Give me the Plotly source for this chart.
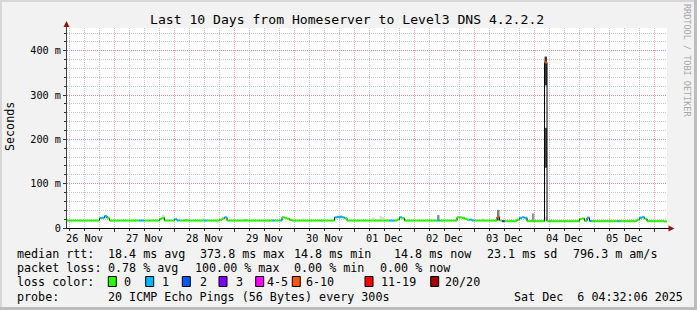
import pandas as pd
import plotly.graph_objects as go

# ---------------- data ----------------
start_time = "2025-11-26 05:00"          # first hourly sample
n_hours = 240

median_ms = [
    16.8,16.8,16.8,16.8,16.8,16.8,16.8,16.8,16.8,16.8,16.8,16.8,16.8,22.5,23.0,27.0,22.0,16.8,16.8,16.8,16.8,16.8,16.8,16.8,
    16.8,16.8,16.8,16.8,16.8,16.8,16.8,16.8,16.8,16.8,16.8,16.8,16.8,20.0,23.0,16.8,16.8,16.8,16.8,19.5,17.0,16.8,16.8,16.8,
    16.8,16.8,16.8,16.8,16.8,16.8,16.8,16.8,16.8,16.8,16.8,16.8,16.8,18.5,21.5,24.0,16.8,16.8,16.8,16.8,16.8,16.8,16.8,16.8,
    16.8,16.8,16.8,16.8,16.8,16.8,16.8,16.8,16.8,16.8,16.8,16.8,16.8,17.0,24.0,23.0,21.0,18.5,16.8,16.8,16.8,16.8,16.8,16.8,
    16.8,16.8,16.8,16.8,16.8,16.8,16.8,16.8,16.8,16.8,16.8,24.0,24.5,24.5,24.0,22.0,16.8,16.8,16.8,16.8,16.8,16.8,16.8,16.8,
    16.8,16.8,16.8,16.8,16.8,16.8,16.8,16.8,16.8,16.8,16.8,16.8,19.0,24.0,22.0,16.8,16.8,16.8,16.8,16.8,16.8,16.8,16.8,16.8,
    16.8,16.8,16.8,16.8,16.8,16.8,16.8,16.8,16.8,16.8,16.8,16.8,24.0,24.0,23.0,21.0,18.5,19.0,17.0,16.8,16.8,16.8,16.8,16.8,
    16.8,16.8,16.8,16.8,25.0,16.8,15.3,15.3,15.3,15.3,15.3,15.3,19.0,23.0,24.0,23.0,15.3,15.3,15.3,15.3,15.3,15.3,15.3,373.8,
    15.3,15.3,15.3,15.3,15.3,15.3,15.3,15.3,15.3,15.3,15.3,15.3,15.3,20.5,21.5,16.0,23.0,15.5,15.3,15.3,15.3,15.3,15.3,15.3,
    15.3,15.3,15.3,15.3,15.3,15.3,15.3,15.3,15.3,15.3,15.3,15.3,19.0,23.0,24.0,21.0,15.3,15.3,15.3,15.3,15.3,15.3,15.3,14.8,
]

# loss class per hour (index into loss_labels)
loss_class = [
    0,0,0,0,0,0,0,0,0,0,0,0,0,1,1,1,0,0,0,0,0,0,0,0,
    0,0,0,0,0,1,1,0,0,0,0,0,0,0,0,0,0,0,0,1,1,0,0,0,
    0,0,0,0,0,0,0,1,0,0,0,0,0,0,0,1,0,0,0,0,0,0,0,0,
    0,0,0,0,0,0,0,0,0,0,1,0,0,1,0,0,0,0,0,0,0,0,0,0,
    0,0,0,0,0,0,0,0,0,0,0,1,1,1,1,0,0,0,0,0,0,0,0,0,
    0,0,0,0,0,0,0,0,0,1,1,0,0,1,0,0,0,0,0,0,0,0,0,0,
    0,0,0,0,1,0,0,0,0,0,0,0,0,0,0,0,0,1,1,0,0,0,0,0,
    0,0,0,0,5,0,3,0,0,0,0,0,0,1,1,1,0,0,0,0,0,0,0,5,
    0,0,0,0,0,0,0,0,0,0,0,0,0,0,0,0,1,1,0,0,0,0,0,0,
    0,0,0,0,1,0,0,0,0,0,0,0,0,1,1,0,0,0,0,0,0,0,0,0,
]

loss_labels = ["0", "1", "2", "3", "4-5", "6-10", "11-19", "20/20"]
loss_colors = ["#26ff00", "#00b8ff", "#0059ff", "#7e00ff", "#ff00ff", "#ff5500", "#ff0000", "#a10000"]

# smoke bands: hour index, low ms, high ms, shade
smoke_hour  = [5, 15, 16, 32, 33, 38, 40, 43, 47, 48, 53, 54, 71, 94, 105, 108, 109, 122, 125, 126,
               148, 166, 172, 186, 191, 191, 191, 208, 229, 230]
smoke_lo    = [16.8, 22.0, 22.0, 16.8, 16.8, 23.0, 16.8, 19.5, 16.8, 16.8, 16.8, 16.8, 16.8, 16.8, 16.8, 24.5, 24.5, 16.8, 16.8, 16.8,
               16.8, 16.8, 16.8, 15.3, 15.3, 136.0, 322.0, 23.0, 23.0, 24.0]
smoke_hi    = [19.5, 28.0, 27.0, 19.0, 19.5, 30.0, 21.0, 23.0, 20.5, 20.5, 21.0, 22.0, 20.0, 22.0, 21.0, 28.0, 29.0, 24.0, 27.0, 25.0,
               29.0, 21.0, 41.0, 33.0, 26.0, 226.0, 387.0, 27.0, 27.0, 28.0]
smoke_shade = ["#e2e2e2", "#c8c8c8", "#dadada", "#e6e6e6", "#e6e6e6", "#dcdcdc", "#e0e0e0", "#d0d0d0", "#a0a0a0", "#c0c0c0",
               "#e0e0e0", "#dcdcdc", "#a8a8a8", "#e0e0e0", "#dedede", "#dadada", "#c8c8c8", "#e2e2e2", "#dcdcdc", "#e0e0e0",
               "#909090", "#c4c4c4", "#808080", "#9a9a9a", "#d8d8d8", "#484848", "#3c3c3c", "#d8d8d8", "#dadada", "#c8c8c8"]

y_tick_vals = [0, 100, 200, 300, 400]
y_tick_text = ["0", "100 m", "200 m", "300 m", "400 m"]
day_labels = ["26 Nov", "27 Nov", "28 Nov", "29 Nov", "30 Nov", "01 Dec", "02 Dec", "03 Dec", "04 Dec", "05 Dec"]
first_label_noon = "2025-11-26 12:00"

title_text = "Last 10 Days from Homeserver to Level3 DNS 4.2.2.2"
rtt_items = ["median rtt:", "18.4 ms avg", "373.8 ms max", "14.8 ms min", "14.8 ms now", "23.1 ms sd", "796.3 m am/s"]
loss_items = ["packet loss:", "0.78 % avg", "100.00 % max", "0.00 % min", "0.00 % now"]
probe_items = ["probe:", "20 ICMP Echo Pings (56 Bytes) every 300s", "Sat Dec  6 04:32:06 2025"]

# ---------------- build ----------------
HOUR = pd.Timedelta(hours=1)
times = pd.date_range(start_time, periods=n_hours, freq="h")
x_start = times[0]
x_end = times[-1] + HOUR

L, R, T, B = 67, 30, 28, 82
W, H = 697, 310
PW, PH = W - L - R, H - T - B


def px(x):
    return (x - L) / PW


def py(y):
    return (H - B - y) / PH


fig = go.Figure()

# smoke
fig.add_trace(go.Bar(
    x=[times[h] + HOUR / 2 for h in smoke_hour],
    y=[hi - lo for lo, hi in zip(smoke_lo, smoke_hi)],
    base=smoke_lo,
    width=[3600000] * len(smoke_hour),
    marker=dict(color=smoke_shade, line=dict(width=0)),
    hoverinfo="skip", showlegend=False,
))

# median thin dark line
fig.add_trace(go.Scatter(
    x=list(times) + [x_end], y=median_ms + [median_ms[-1]],
    mode="lines", line=dict(color="#000000", width=1, shape="hv"),
    hoverinfo="skip", showlegend=False,
))

# loss-coloured median bands
for ci, col in enumerate(loss_colors):
    xs, ys = [], []
    for h in range(n_hours):
        if loss_class[h] == ci:
            xs += [times[h], times[h] + HOUR, None]
            ys += [median_ms[h], median_ms[h], None]
    if xs:
        fig.add_trace(go.Scatter(x=xs, y=ys, mode="lines",
                                 line=dict(color=col, width=2),
                                 hoverinfo="skip", showlegend=False))

# dummy trace for label axis
fig.add_trace(go.Scatter(x=[x_start, x_end], y=[0, 0], xaxis="x2", mode="lines",
                         opacity=0, hoverinfo="skip", showlegend=False))

noon_vals = pd.date_range(first_label_noon, periods=len(day_labels), freq="D")

MAJ = "rgba(255,95,95,0.55)"
MIN = "#c8c8c8"
DASH = "1px,1px"
AX = "#333333"

fig.update_layout(
    width=W, height=H,
    margin=dict(l=L, r=R, t=T, b=B, pad=0),
    paper_bgcolor="#f2f2f2", plot_bgcolor="#ffffff",
    showlegend=False, barmode="overlay",
    font=dict(family="DejaVu Sans Mono", color="#000000", size=10.2),
    xaxis=dict(
        type="date", range=[x_start, x_end],
        tickmode="linear", tick0="2025-11-27 00:00", dtick=86400000,
        showgrid=True, gridcolor=MAJ, griddash=DASH, gridwidth=1,
        showticklabels=False, ticks="outside", ticklen=3, tickcolor=AX,
        minor=dict(dtick=21600000, tick0="2025-11-27 00:00", showgrid=True,
                   gridcolor=MIN, griddash=DASH, ticks="outside", ticklen=2, tickcolor=AX),
        zeroline=False, showline=False,
    ),
    xaxis2=dict(
        type="date", range=[x_start, x_end], overlaying="x", side="bottom", anchor="y",
        tickmode="array", tickvals=list(noon_vals), ticktext=day_labels,
        showgrid=False, ticks="", zeroline=False, showline=False,
        ticklabelstandoff=3,
        tickfont=dict(size=10.2, family="DejaVu Sans Mono"),
    ),
    yaxis=dict(
        range=[0, 451.5],
        tickmode="array", tickvals=y_tick_vals, ticktext=y_tick_text,
        showgrid=True, gridcolor=MAJ, griddash=DASH, gridwidth=1,
        ticks="outside", ticklen=3, tickcolor=AX,
        minor=dict(dtick=20, showgrid=True, gridcolor=MIN, griddash=DASH,
                   ticks="outside", ticklen=2, tickcolor=AX),
        zeroline=False, showline=False,
        tickfont=dict(size=10.2, family="DejaVu Sans Mono"),
    ),
)

shapes = []
# frame
shapes.append(dict(type="rect", xref="paper", yref="paper", x0=px(0), x1=px(W), y0=py(0), y1=py(2),
                   fillcolor="#d6d6d6", line=dict(width=0), layer="below"))
shapes.append(dict(type="rect", xref="paper", yref="paper", x0=px(0), x1=px(2), y0=py(0), y1=py(H),
                   fillcolor="#d6d6d6", line=dict(width=0), layer="below"))
shapes.append(dict(type="rect", xref="paper", yref="paper", x0=px(0), x1=px(W), y0=py(H - 3), y1=py(H),
                   fillcolor="#bdbdbd", line=dict(width=0), layer="below"))
shapes.append(dict(type="rect", xref="paper", yref="paper", x0=px(W - 3), x1=px(W), y0=py(0), y1=py(H),
                   fillcolor="#bdbdbd", line=dict(width=0), layer="below"))
# axes
shapes.append(dict(type="line", xref="paper", yref="paper", x0=px(66), x1=px(670), y0=py(228.5), y1=py(228.5),
                   line=dict(color="#000000", width=1)))
shapes.append(dict(type="line", xref="paper", yref="paper", x0=px(66.5), x1=px(66.5), y0=py(228.5), y1=py(24),
                   line=dict(color="#404040", width=1)))
# arrows
shapes.append(dict(type="path", xref="paper", yref="paper",
                   path=f"M {px(63.5)},{py(27)} L {px(66.5)},{py(21)} L {px(69.5)},{py(27)} Z",
                   fillcolor="#931515", line=dict(width=0)))
shapes.append(dict(type="path", xref="paper", yref="paper",
                   path=f"M {px(668.5)},{py(225.5)} L {px(674.5)},{py(228.5)} L {px(668.5)},{py(231.5)} Z",
                   fillcolor="#931515", line=dict(width=0)))

# loss colour boxes
box_left = [108.3, 145.7, 182.3, 219.0, 255.7, 292.3, 365.0, 430.7]
for bx, col in zip(box_left, loss_colors):
    shapes.append(dict(type="rect", xref="paper", yref="paper",
                       x0=px(bx), x1=px(bx + 8), y0=py(276.5), y1=py(286.5),
                       fillcolor=col, line=dict(color="#000000", width=1)))
fig.update_layout(shapes=shapes)

LF = 11.7
ann = []


def text(x, y, s, size=LF, anchor="left", color="#000000", angle=0):
    ann.append(dict(x=px(x), y=py(y), xref="paper", yref="paper", text=s.replace(" ", "\u00a0"),
                    showarrow=False, xanchor=anchor, yanchor="middle", textangle=angle,
                    font=dict(family="DejaVu Sans Mono", size=size, color=color)))


text(347, 19, title_text, size=13.1, anchor="center")
text(10, 127, "Seconds", size=LF, anchor="center", angle=-90)
text(687, 60, "RRDTOOL / TOBI OETIKER", size=8.5, anchor="center", color="#a8a8a8", angle=90)

OFF = 1.5
for xx, s in zip([16, 107.7, 199.3, 293.3, 393.3, 486.7, 572.7], rtt_items):
    text(xx - OFF, 254, s)
for xx, s in zip([16, 107.7, 194, 293.3, 379.3], loss_items):
    text(xx - OFF, 268.3, s)
text(16 - OFF, 281.7, "loss color:")
for xx, s in zip([123, 161, 199, 235, 266.7, 305, 380, 445], loss_labels):
    text(xx - OFF, 281.7, s)
for xx, s in zip([16, 107.7, 513.3], probe_items):
    text(xx - OFF, 296.7, s)

fig.update_layout(annotations=ann)
fig.write_html("out.html")
